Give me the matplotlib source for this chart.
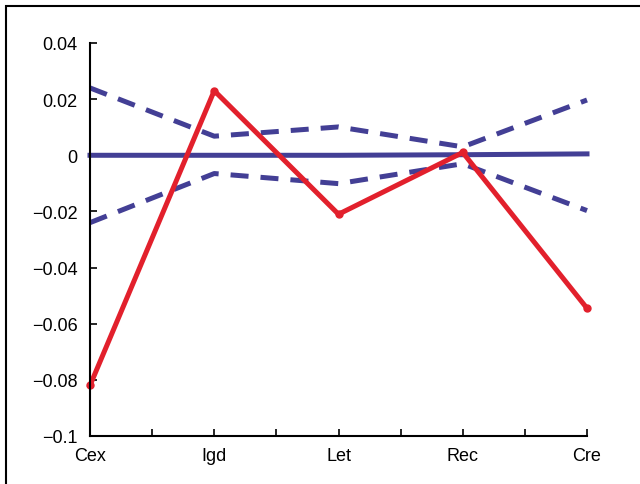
import matplotlib
matplotlib.use("Agg")
import matplotlib.pyplot as plt
from matplotlib.patches import Rectangle
import numpy as np

plt.rcParams["font.family"] = ["Liberation Sans", "DejaVu Sans"]

CATS = ["Cex", "Igd", "Let", "Rec", "Cre"]
OBSERVED = [-0.082, 0.023, -0.021, 0.001, -0.0545]
MEAN = [0.0, 0.0, 0.0, 0.0002, 0.0005]
UPPER = [0.024, 0.0068, 0.0101, 0.003, 0.0197]
LOWER = [-0.024, -0.0065, -0.0101, -0.003, -0.0197]
YTICKS = [0.04, 0.02, 0, -0.02, -0.04, -0.06, -0.08, -0.1]
YLABELS = ["0.04", "0.02", "0", "\u22120.02", "\u22120.04", "\u22120.06", "\u22120.08", "\u22120.1"]

RED = "#e2202c"
BLUE = "#433f95"

fig = plt.figure(figsize=(6.4, 4.85), dpi=100)
# figure frame (open on right / bottom as cropped in the source)
fig.patches.append(Rectangle((6 / 640, -0.05), 1.2, (485 - 7) / 485 + 0.05, transform=fig.transFigure,
                             fill=False, edgecolor="black", lw=1.5))
ax = fig.add_axes([90 / 640, (485 - 437) / 485, (587 - 90) / 640, (437 - 44) / 485])

x = np.arange(len(CATS))
ax.plot(x, UPPER, color=BLUE, lw=3.6, ls=(0, (3.6, 2.4)), solid_capstyle="butt", clip_on=False)
ax.plot(x, LOWER, color=BLUE, lw=3.6, ls=(0, (3.6, 2.4)), solid_capstyle="butt", clip_on=False)
ax.plot(x, MEAN, color=BLUE, lw=3.6, clip_on=False)
ax.plot(x, OBSERVED, color=RED, lw=3.6, marker="o", ms=5, mec=RED, mfc=RED, clip_on=False)

ax.set_xlim(0, 4)
ax.set_ylim(-0.1, 0.04)
ax.set_xticks(x)
ax.set_xticklabels(CATS)
ax.set_xticks(np.arange(0.5, 4, 1), minor=True)
ax.set_yticks(YTICKS)
ax.set_yticklabels(YLABELS)
ax.spines["top"].set_visible(False)
ax.spines["right"].set_visible(False)
for s in ("left", "bottom"):
    ax.spines[s].set_linewidth(1.5)
ax.tick_params(axis="both", which="both", direction="in", length=5, width=1.2, labelsize=13)
ax.tick_params(axis="x", pad=8)
ax.tick_params(axis="y", pad=9)

fig.savefig("out.png", dpi=100)
